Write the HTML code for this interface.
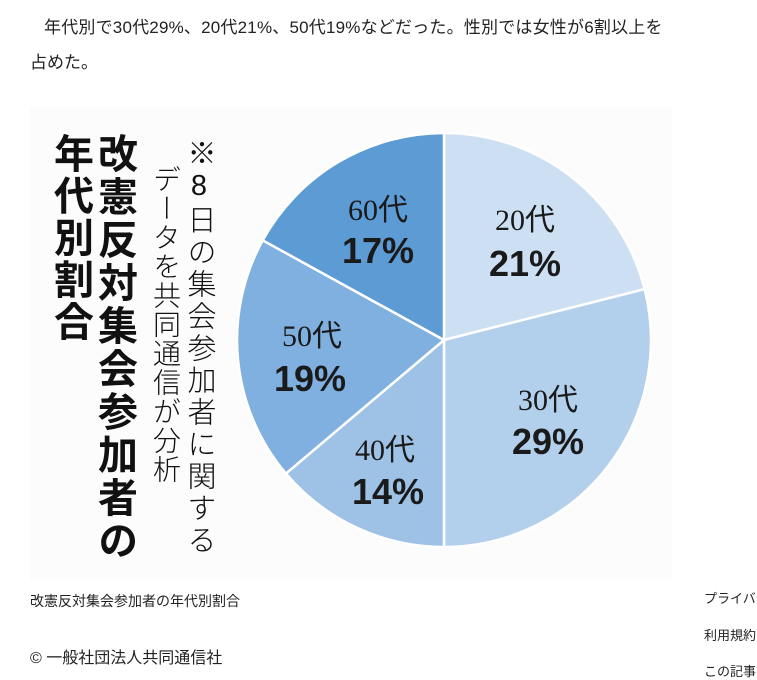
<!DOCTYPE html>
<html><head><meta charset="utf-8"><style>
body{margin:0;width:757px;height:678px;background:#fff;position:relative;overflow:hidden;font-family:"Liberation Sans","Noto Sans CJK JP",sans-serif;color:#222}
.t{position:absolute;font-size:15px;white-space:nowrap}
.v{position:absolute;writing-mode:vertical-rl;text-orientation:upright;top:0;font-family:"Liberation Sans","Noto Sans CJK JP",sans-serif;color:#111;white-space:nowrap}
</style></head><body>
<div class="t" style="left:44px;top:13px;font-size:17px;letter-spacing:0.2px">年代別で30代29%、20代21%、50代19%などだった。性別では女性が6割以上を</div>
<div class="t" style="left:30px;top:48px;font-size:17px">占めた。</div>
<div style="position:absolute;left:30px;top:107px;width:642px;height:473px;background:#fcfcfc"></div>
<svg style="position:absolute;left:0;top:0" width="757" height="678">
<g stroke="#fff" stroke-width="2.5">
<path d="M444,340 L444,133 A207,207 0 0 1 644.6,289.1 Z" fill="#cde0f3"/>
<path d="M444,340 L644.6,289.1 A207,207 0 0 1 444,547 Z" fill="#b2cfec"/>
<path d="M444,340 L444,547 A207,207 0 0 1 285.9,473.6 Z" fill="#9ec2e6"/>
<path d="M444,340 L285.9,473.6 A207,207 0 0 1 262.7,240.3 Z" fill="#7fb0df"/>
<path d="M444,340 L262.7,240.3 A207,207 0 0 1 444,133 Z" fill="#5d9bd4"/>
</g>
<g fill="#1a1a1a" text-anchor="middle">
<g font-family="Liberation Serif,serif" font-size="30">
<text x="525" y="230">20代</text><text x="548" y="410">30代</text><text x="385" y="460">40代</text><text x="312" y="346">50代</text><text x="378" y="220">60代</text></g>
<g font-family="Liberation Sans,sans-serif" font-size="36" font-weight="bold">
<text x="525" y="276">21%</text><text x="548" y="454">29%</text><text x="388" y="504">14%</text><text x="310" y="391">19%</text><text x="378" y="263">17%</text></g>
</g>
</svg>
<div class="v" style="left:50px;top:133px;font-size:40px;font-weight:bold;line-height:40px;letter-spacing:2px">年代別割合</div>
<div class="v" style="left:94px;top:133px;font-size:40px;font-weight:bold;line-height:40px;letter-spacing:3px">改憲反対集会参加者の</div>
<div class="v" style="left:150px;top:165px;font-size:28px;line-height:30px;font-weight:300;letter-spacing:1px">データを共同通信が分析</div>
<div class="v" style="left:183px;top:138px;font-size:29px;line-height:32px;letter-spacing:3px;font-weight:300">※8日の集会参加者に関する</div>
<div class="t" style="left:30px;top:591px;font-size:14px">改憲反対集会参加者の年代別割合</div>
<div class="t" style="left:30px;top:644px;font-size:16px">© 一般社団法人共同通信社</div>
<div class="t" style="left:704px;top:588px;font-size:13px">プライバシー</div>
<div class="t" style="left:704px;top:625px;font-size:13px">利用規約</div>
<div class="t" style="left:704px;top:661px;font-size:13px">この記事</div>
</body></html>
